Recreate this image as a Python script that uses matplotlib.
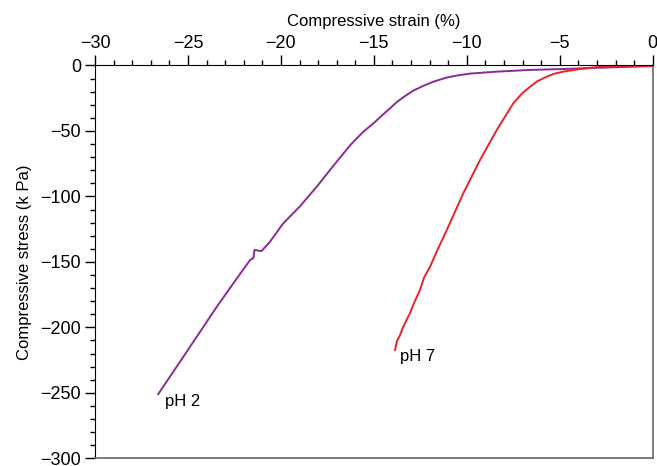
import matplotlib
matplotlib.use("Agg")
from matplotlib import pyplot as plt
from matplotlib.ticker import MultipleLocator

plt.rcParams['font.family'] = ['Liberation Sans Narrow', 'Liberation Sans', 'DejaVu Sans']

# pH 2 curve (strain %, stress kPa)
ph2_strain = [-26.60, -25.25, -24.35, -23.45, -22.56, -21.66, -21.48, -21.42, -21.12, -21.03,
              -20.59, -19.87, -18.97, -18.07, -17.20, -16.28, -15.60, -14.94, -14.67, -14.13,
              -13.77, -13.42, -12.88, -12.30, -11.80, -11.08, -10.50, -9.83, -8.39, -6.60,
              -4.81, -3.00, -1.06, 0.0]
ph2_stress = [-251.0, -222.5, -203.4, -184.3, -166.4, -148.6, -147.0, -140.8, -141.7, -141.5,
              -134.6, -120.5, -107.5, -92.5, -77.0, -61.0, -51.0, -43.2, -39.5, -32.7,
              -28.0, -24.3, -19.2, -15.3, -12.4, -9.2, -7.6, -6.2, -4.7, -3.4,
              -2.7, -1.8, -0.9, -0.5]

# pH 7 curve
ph7_strain = [-13.86, -13.75, -13.59, -13.45, -13.30, -13.06, -12.90, -12.70, -12.52, -12.30,
              -11.98, -11.55, -11.08, -10.19, -9.29, -8.39, -7.50, -7.00, -6.60, -6.20,
              -5.70, -5.30, -4.81, -3.91, -2.83, -1.5, 0.0]
ph7_stress = [-217.3, -210.0, -205.9, -200.5, -196.0, -189.3, -183.5, -177.0, -171.5, -162.0,
              -153.7, -140.0, -125.7, -97.6, -72.2, -49.3, -28.9, -21.0, -16.2, -12.0,
              -8.6, -6.3, -4.7, -2.7, -0.9, -0.5, -0.3]

labels = ['pH 2', 'pH 7']
label_pos = [(-26.25, -256.5), (-13.6, -222.5)]

fig = plt.figure(figsize=(6.57, 4.66), dpi=100)
ax = fig.add_axes([0.1446, 0.0165, 0.8489, 0.843])

ax.plot(ph2_strain, ph2_stress, color='#8b2a98', lw=1.4)
ax.plot(ph7_strain, ph7_stress, color='#ec2229', lw=1.4)

for txt, (tx, ty) in zip(labels, label_pos):
    ax.text(tx, ty, txt, fontsize=12, va='center', ha='left')

ax.set_xlim(-30, 0)
ax.set_ylim(-300, 0)
ax.xaxis.set_major_locator(MultipleLocator(5))
ax.xaxis.set_minor_locator(MultipleLocator(1))
ax.yaxis.set_major_locator(MultipleLocator(50))
ax.yaxis.set_minor_locator(MultipleLocator(10))
ax.xaxis.tick_top()
ax.xaxis.set_label_position('top')
ax.tick_params(which='major', length=7, width=1, labelsize=13, pad=3, direction='out')
ax.tick_params(which='minor', length=3.5, width=1, direction='out')
ax.tick_params(axis='y', which='both', right=False)
ax.tick_params(axis='x', which='both', bottom=False)

ax.set_xlabel('Compressive strain (%)', fontsize=12, labelpad=6)
ax.set_ylabel('Compressive stress (k Pa)', fontsize=12, labelpad=6)

for side in ['left', 'top']:
    ax.spines[side].set_color('black')
for side in ['right', 'bottom']:
    ax.spines[side].set_color('#666666')
    ax.spines[side].set_linewidth(1.2)

fig.savefig('out.png', dpi=100)
